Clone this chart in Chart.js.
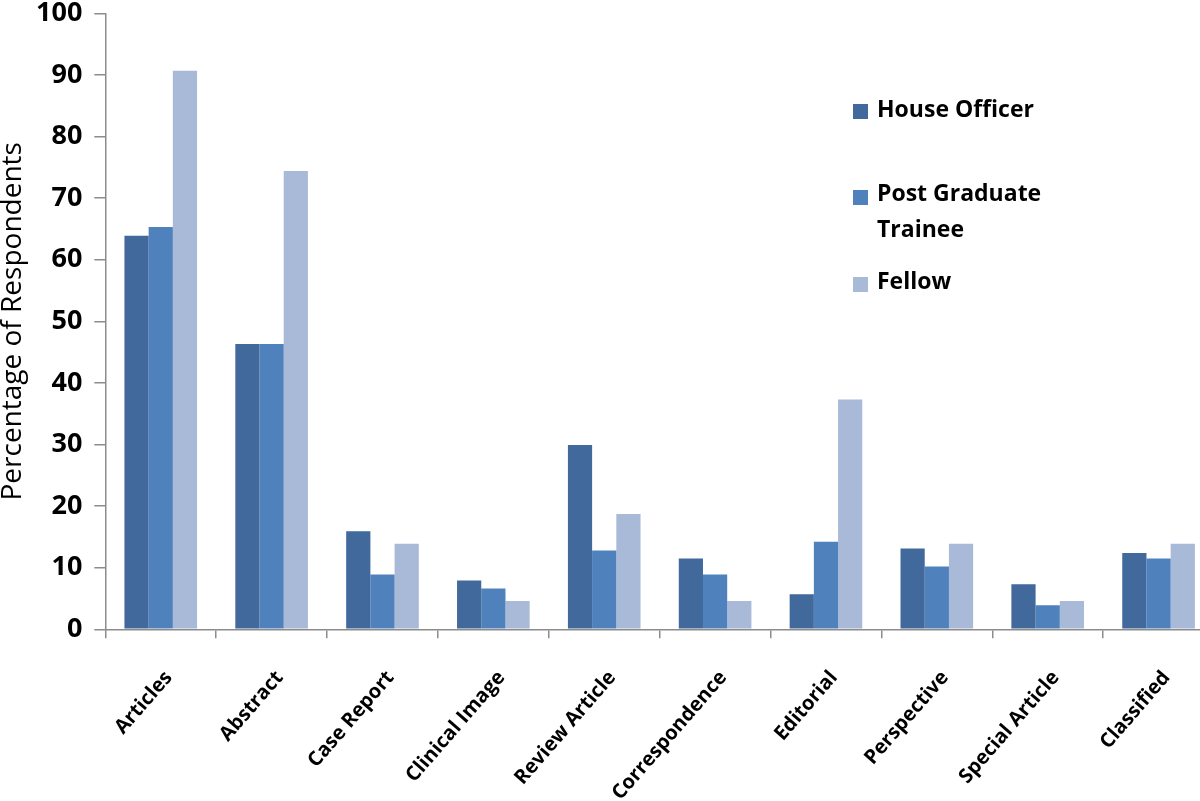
<!DOCTYPE html>
<html>
<head>
<meta charset="utf-8">
<script src="https://cdn.jsdelivr.net/npm/chart.js@4"></script>
<style>
  html, body { margin: 0; padding: 0; background: #fff; overflow: hidden; width: 1200px; height: 801px; }
  #wrap { position: absolute; left: 0; top: 0; }
  .legend { position: absolute; left: 853px; top: 0; font-family: "Open Sans", sans-serif; font-weight: bold; font-size: 23px; color: #000; }
  .legend .item { position: absolute; left: 0; width: 220px; }
  .legend .box { position: absolute; left: 0; width: 15px; height: 15px; }
  .legend .txt { position: absolute; left: 24px; line-height: 36px; width: 190px; }
</style>
</head>
<body>
<div id="wrap">
  <canvas class="js-chart" width="1220" height="801"></canvas>
</div>
<div class="legend js-legend"></div>
<script>
const categories = ['Articles', 'Abstract', 'Case Report', 'Clinical Image', 'Review Article',
    'Correspondence', 'Editorial', 'Perspective', 'Special Article', 'Classified'];
const seriesNames = ['House Officer', 'Post Graduate Trainee', 'Fellow'];
const houseOfficer = [63.9, 46.3, 15.9, 7.9, 29.9, 11.5, 5.7, 13.1, 7.3, 12.4];
const postGraduate = [65.3, 46.3, 8.9, 6.6, 12.8, 8.9, 14.2, 10.2, 3.9, 11.5];
const fellow = [90.7, 74.4, 13.9, 4.6, 18.7, 4.6, 37.3, 13.9, 4.6, 13.9];
const yTicks = [0, 10, 20, 30, 40, 50, 60, 70, 80, 90, 100];

const colors = ['#41699c', '#4f81bd', '#a9b9d8'];
const FONT = '"Open Sans", sans-serif';

const ctx = document.querySelector('.js-chart').getContext('2d');

const chart = new Chart(ctx, {
    type: 'bar',
    data: {
        labels: categories,
        datasets: [houseOfficer, postGraduate, fellow].map((values, i) => ({
            label: seriesNames[i],
            data: values,
            backgroundColor: colors[i],
            borderWidth: 0,
            categoryPercentage: 0.655,
            barPercentage: 1.0,
        }))
    },
    options: {
        responsive: false,
        devicePixelRatio: 1,
        animation: false,
        layout: { padding: { left: 0, top: 0, right: 6, bottom: -32 } },
        plugins: {
            legend: { display: false },
            tooltip: { enabled: false },
        },
        scales: {
            x: {
                grid: { drawOnChartArea: false, drawTicks: true, tickLength: 9, color: '#8c8c8c', lineWidth: 1.5, offset: true },
                border: { color: '#8c8c8c', width: 1.5 },
                ticks: {
                    autoSkip: false,
                    maxRotation: 49,
                    minRotation: 49,
                    color: '#000',
                    padding: 28,
                    labelOffset: 8,
                    font: { family: FONT, weight: 'bold', size: 20 },
                },
            },
            y: {
                min: 0,
                max: 100,
                afterBuildTicks(axis) {
                    axis.ticks = yTicks.map(v => ({ value: v }));
                },
                grid: { drawOnChartArea: false, drawTicks: true, tickLength: 11, color: '#8c8c8c', lineWidth: 1.5 },
                border: { color: '#8c8c8c', width: 1.5 },
                ticks: {
                    color: '#000',
                    padding: 12,
                    font: { family: FONT, weight: 'bold', size: 27, lineHeight: 0.1 },
                },
                title: {
                    display: true,
                    text: 'Percentage of Respondents',
                    color: '#000',
                    padding: { top: 3, bottom: 0 },
                    font: { family: FONT, size: 28, lineHeight: 0.75 },
                },
            },
        },
    },
});

// legend placed inside the plot like the original
const legendTops = [96, 180, 268];
const legendBoxOffsets = [8, 10, 9];
const legendEl = document.querySelector('.js-legend');
chart.data.datasets.forEach((ds, i) => {
    const item = document.createElement('div');
    item.className = 'item';
    item.style.top = legendTops[i] + 'px';
    const box = document.createElement('div');
    box.className = 'box';
    box.style.background = ds.backgroundColor;
    box.style.top = legendBoxOffsets[i] + 'px';
    const txt = document.createElement('div');
    txt.className = 'txt';
    txt.style.top = '-6px';
    txt.textContent = ds.label;
    item.appendChild(box);
    item.appendChild(txt);
    legendEl.appendChild(item);
});
</script>
</body>
</html>
